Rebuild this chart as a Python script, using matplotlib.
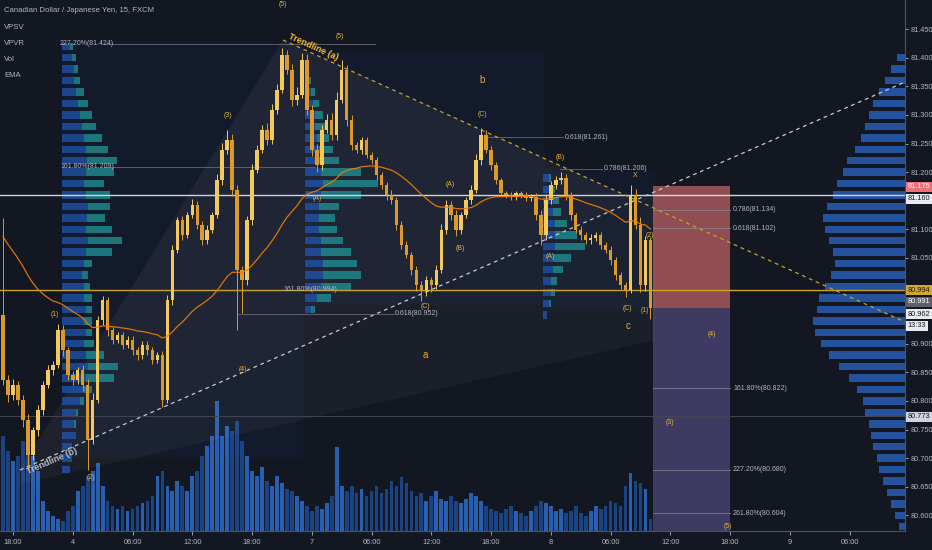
"""CAD/JPY 15m chart with Elliott wave markup, TradingView dark style."""
import matplotlib

matplotlib.use("Agg")

import matplotlib.pyplot as plt
import matplotlib.patches as mpatches

plt.rcParams["font.family"] = ["Liberation Sans", "DejaVu Sans"]

BG = "#131722"
TXT = "#b2b5be"
UP = "#f4c95d"
DOWN = "#dc9a2c"
WAVE = "#e2b33c"
EMA_COLOR = "#f57c00"
FIB = "#5d606b"
BLUE = "#1f56b0"
TEAL = "#1f9c9c"

# ---- data -------------------------------------------------------------
bar_start = -4          # first candle, in 15-minute bar units
bar_step = 2            # 30-minute candles
first_open = 80.950

closes = [
    80.837, 80.810, 80.828, 80.802, 80.767, 80.705, 80.749, 80.784, 80.828, 80.854,
    80.863, 80.924, 80.889, 80.845, 80.837, 80.854, 80.828, 80.732, 80.802, 80.941,
    80.976, 80.924, 80.907, 80.915, 80.898, 80.907, 80.889, 80.880, 80.898, 80.889,
    80.872, 80.880, 80.802, 80.976, 81.064, 81.116, 81.090, 81.125, 81.143, 81.108,
    81.081, 81.099, 81.125, 81.186, 81.239, 81.256, 81.169, 81.029, 81.011, 81.116,
    81.204, 81.239, 81.274, 81.256, 81.309, 81.344, 81.405, 81.379, 81.326, 81.335,
    81.396, 81.309, 81.239, 81.212, 81.274, 81.291, 81.265, 81.326, 81.379, 81.291,
    81.247, 81.239, 81.256, 81.230, 81.221, 81.195, 81.177, 81.160, 81.151, 81.108,
    81.073, 81.055, 81.029, 81.003, 80.994, 81.011, 81.003, 81.029, 81.099, 81.143,
    81.125, 81.099, 81.125, 81.151, 81.169, 81.221, 81.265, 81.239, 81.212, 81.186,
    81.163, 81.160, 81.157, 81.163, 81.160, 81.155, 81.157, 81.125, 81.090, 81.151,
    81.177, 81.186, 81.190, 81.160, 81.125, 81.099, 81.090, 81.081, 81.085, 81.090,
    81.073, 81.064, 81.046, 81.020, 81.003, 80.994, 81.160, 81.108, 81.003, 81.081,
    80.962,
]

# wick lengths beyond the body, in 0.001 JPY
wick_up = [
    170, 8, 10, 6, 8, 10, 6, 8, 6, 8,
    6, 10, 8, 6, 8, 6, 8, 10, 12, 8,
    8, 6, 6, 6, 6, 6, 6, 6, 6, 6,
    6, 6, 8, 10, 8, 6, 8, 6, 10, 6,
    6, 8, 6, 10, 12, 18, 10, 8, 6, 8,
    10, 8, 8, 12, 10, 10, 12, 8, 10, 14,
    12, 10, 8, 10, 8, 10, 12, 14, 17, 8,
    8, 6, 6, 6, 6, 6, 6, 6, 8, 6,
    6, 6, 6, 6, 6, 8, 6, 8, 10, 8,
    6, 8, 6, 6, 8, 10, 12, 8, 6, 6,
    4, 4, 5, 4, 4, 5, 4, 6, 8, 10,
    8, 8, 10, 6, 6, 4, 6, 6, 6, 6,
    6, 5, 6, 6, 6, 5, 17, 10, 14, 8,
    6,
]
wick_dn = [
    10, 12, 8, 10, 12, 26, 8, 10, 8, 6,
    8, 6, 10, 8, 10, 8, 10, 53, 8, 6,
    8, 10, 8, 6, 8, 6, 8, 8, 6, 8,
    8, 6, 12, 6, 8, 6, 8, 6, 6, 8,
    8, 6, 6, 6, 8, 8, 10, 105, 57, 8,
    8, 6, 6, 8, 6, 8, 6, 8, 10, 8,
    6, 10, 10, 12, 8, 6, 8, 8, 6, 10,
    8, 6, 8, 6, 6, 8, 6, 8, 6, 10,
    8, 6, 8, 10, 20, 10, 12, 8, 6, 8,
    8, 10, 8, 6, 6, 6, 8, 6, 8, 6,
    5, 6, 5, 6, 5, 6, 6, 8, 18, 8,
    6, 6, 6, 8, 8, 6, 8, 6, 6, 6,
    8, 6, 8, 8, 8, 12, 6, 8, 12, 10,
    18,
]

volumes = [
    95, 80, 70, 75, 90, 85, 75, 60, 30, 20,
    15, 12, 10, 20, 25, 40, 45, 55, 60, 68,
    45, 30, 25, 22, 25, 20, 22, 25, 28, 30,
    35, 55, 60, 45, 40, 50, 45, 40, 55, 60,
    75, 85, 95, 130, 95, 105, 100, 110, 90, 75,
    60, 55, 64, 50, 45, 55, 48, 42, 40, 35,
    30, 25, 20, 25, 22, 28, 35, 84, 45, 40,
    45, 38, 42, 35, 40, 45, 38, 42, 50, 45,
    54, 48, 40, 35, 38, 30, 35, 40, 32, 30,
    35, 30, 28, 32, 38, 35, 30, 25, 22, 20,
    18, 22, 25, 20, 18, 15, 20, 25, 30, 28,
    25, 20, 22, 18, 20, 25, 18, 15, 20, 25,
    22, 25, 30, 28, 25, 45, 58, 50, 48, 42,
    12,
]

ema_seed = 81.100
ema_span = 40

time_labels = ["18:00", "4", "06:00", "12:00", "18:00", "7", "06:00", "12:00",
               "18:00", "8", "06:00", "12:00", "18:00", "9", "06:00"]
price_ticks = [80.60, 80.65, 80.70, 80.75, 80.80, 80.85, 80.90,
               81.05, 81.10, 81.20, 81.25, 81.30, 81.35, 81.40, 81.45]

# volume profiles: top price, step, then (blue, teal) volume per row
prof_left_top = 81.42
prof_left_blue = [8, 10, 12, 12, 14, 16, 18, 20, 22, 24, 25, 24, 22, 24, 26, 25, 24, 26, 24,
                  22, 20, 22, 22, 24, 22, 24, 22, 24, 26, 24, 22, 18, 14, 12, 14, 10, 10, 8]
prof_left_teal = [3, 4, 4, 6, 8, 10, 12, 14, 18, 22, 30, 28, 20, 24, 22, 18, 26, 34, 26,
                  8, 6, 6, 8, 6, 8, 6, 10, 18, 30, 28, 8, 4, 2, 2, 0, 0, 0, 0]
prof_mid_top = 81.36
prof_mid_blue = [4, 6, 8, 10, 10, 12, 14, 14, 16, 18, 16, 14, 14, 14, 16, 16, 18, 18, 16, 12, 6]
prof_mid_teal = [2, 4, 6, 8, 10, 12, 14, 20, 40, 55, 40, 20, 16, 18, 22, 30, 34, 38, 30, 14, 4]
prof_b_top = 81.19
prof_b_blue = [6, 8, 10, 10, 12, 12, 12, 10, 10, 8, 8, 6, 4]
prof_b_teal = [2, 4, 6, 8, 12, 22, 30, 18, 10, 6, 4, 2, 0]
prof_right_top = 81.40
prof_right = [8, 14, 20, 26, 32, 36, 40, 44, 50, 58, 62, 68, 72, 78, 82, 80, 76, 72, 70, 74,
              80, 86, 88, 92, 90, 84, 76, 66, 56, 48, 42, 40, 36, 34, 32, 28, 26, 22, 18, 14,
              10, 6, 4]
prof_step = 0.02

# fibonacci levels: (price, label)
fib_levels = {
    "ext_top": (81.424, "227.20%(81.424)"),
    "ext_mid": (81.209, "161.80%(81.209)"),
    "ext_low": (80.994, "161.80%(80.994)"),
    "ret_low": (80.952, "0.618(80.952)"),
    "ret_c": (81.261, "0.618(81.261)"),
    "ret_b": (81.206, "0.786(81.206)"),
}
target_levels = [(81.134, "0.786(81.134)"), (81.102, "0.618(81.102)"),
                 (80.822, "161.80%(80.822)"), (80.680, "227.20%(80.680)"),
                 (80.604, "261.80%(80.604)")]
stop_price = 81.175
entry_price = 80.962

# ---- screen helpers (annotation placement) ------------------------------
X0, PXBAR = 13.0, 2.49
P0, Y0, PXPRICE = 81.160, 195.0, 572.0


def bx(px):
    return (px - X0) / PXBAR


def pp(py):
    return P0 - (py - Y0) / PXPRICE


def on_line(p1, p2, x):
    return p1[1] + (p2[1] - p1[1]) * (x - p1[0]) / (p2[0] - p1[0])


fig = plt.figure(figsize=(9.32, 5.5), dpi=100, facecolor=BG)
rect = [0, 19 / 550, 905 / 932, 531 / 550]
axv = fig.add_axes(rect, facecolor=BG)
ax = fig.add_axes(rect, facecolor="none", sharex=axv)
axv.axis("off")

xs = [bar_start + i * bar_step for i in range(len(closes))]
opens = [first_open] + closes[:-1]

# volume
vcol = ["#2f6cc9" if c >= o else "#1d4b94" for o, c in zip(opens, closes)]
axv.bar(xs, volumes, width=1.5, color=vcol, alpha=0.85, linewidth=0)
axv.set_ylim(0, 531)

ax.set_xlim(bx(0), bx(905))
ax.set_ylim(pp(531), pp(0))

# range boxes behind the profiles
for l, r, top, bot in [(62, 303, 41, 458), (305, 545, 52, 305), (543, 655, 170, 310)]:
    ax.add_patch(mpatches.Rectangle((bx(l), pp(bot)), bx(r) - bx(l), pp(top) - pp(bot),
                                    facecolor="#2962ff", alpha=0.045, linewidth=0, zorder=0))

# trendlines
ta1, ta2 = (bx(283), pp(40)), (bx(905), pp(322))
tb1, tb2 = (bx(20), pp(470)), (bx(905), pp(82))
sa = (ta2[1] - ta1[1]) / (ta2[0] - ta1[0])
sb = (tb2[1] - tb1[1]) / (tb2[0] - tb1[0])
xi = (tb1[1] - ta1[1] + sa * ta1[0] - sb * tb1[0]) / (sa - sb)
apex = (xi, on_line(ta1, ta2, xi))
ax.add_patch(mpatches.Polygon([tb1, ta1, apex], closed=True, facecolor="white",
                              alpha=0.05, linewidth=0, zorder=0))
xr = bx(655)
ax.add_patch(mpatches.Polygon([tb1, (xr, on_line(tb1, tb2, xr)), (xr, pp(340)), (tb1[0], pp(484))],
                              closed=True, facecolor="white", alpha=0.035, linewidth=0, zorder=0))

# volume profiles
sc = 1.0 / PXBAR
h = prof_step * 0.65


def draw_profile(anchor, top, blue, teal):
    lv = [top - k * prof_step for k in range(len(blue))]
    bw = [b * sc for b in blue]
    tw = [t * sc for t in teal]
    ax.barh(lv, bw, height=h, left=anchor, color=BLUE, alpha=0.75, linewidth=0, zorder=1)
    ax.barh(lv, tw, height=h, left=[anchor + w for w in bw], color=TEAL, alpha=0.7,
            linewidth=0, zorder=1)


draw_profile(bx(62), prof_left_top, prof_left_blue, prof_left_teal)
draw_profile(bx(305), prof_mid_top, prof_mid_blue, prof_mid_teal)
draw_profile(bx(543), prof_b_top, prof_b_blue, prof_b_teal)
lv = [prof_right_top - k * prof_step for k in range(len(prof_right))]
rw = [w * sc for w in prof_right]
ax.barh(lv, rw, height=h, left=[bx(905) - w for w in rw], color="#2a62bd", alpha=0.8,
        linewidth=0, zorder=1)

# horizontal levels
ax.axhline(81.160, color="#d1d4dc", lw=1.0, zorder=2)
ax.axhline(80.994, color="#c9a227", lw=1.0, zorder=2)
ax.axhline(80.773, color="#434651", lw=0.7, zorder=2)

fs_lab = 5.0
p, t = fib_levels["ext_top"]
ax.plot([bx(104), bx(375)], [p, p], color=FIB, lw=0.7, zorder=2)
ax.text(bx(60), p, t, color=TXT, fontsize=fs_lab, va="center", ha="left", zorder=5)
p, t = fib_levels["ext_mid"]
ax.plot([bx(104), bx(315)], [p, p], color=FIB, lw=0.7, zorder=2)
ax.text(bx(60), p, t, color=TXT, fontsize=fs_lab, va="center", ha="left", zorder=5)
p, t = fib_levels["ext_low"]
ax.text(bx(310), p, t, color=TXT, fontsize=fs_lab, va="center", ha="center", zorder=5)
p, t = fib_levels["ret_low"]
ax.plot([bx(238), bx(394)], [p, p], color=FIB, lw=0.7, zorder=2)
ax.text(bx(395), p, t, color=TXT, fontsize=fs_lab, va="center", ha="left", zorder=5)
p, t = fib_levels["ret_c"]
ax.plot([bx(480), bx(563)], [p, p], color=FIB, lw=0.7, zorder=2)
ax.text(bx(565), p, t, color=TXT, fontsize=fs_lab, va="center", ha="left", zorder=5)
p, t = fib_levels["ret_b"]
ax.plot([bx(560), bx(602)], [p, p], color=FIB, lw=0.7, zorder=2)
ax.text(bx(604), p, t, color=TXT, fontsize=fs_lab, va="center", ha="left", zorder=5)

# risk / reward boxes
bl, br = bx(653), bx(730)
ax.add_patch(mpatches.Rectangle((bl, entry_price), br - bl, stop_price - entry_price,
                                facecolor="#e57373", alpha=0.6, linewidth=0, zorder=1.5))
ax.add_patch(mpatches.Rectangle((bl, pp(531)), br - bl, entry_price - pp(531),
                                facecolor="#8070c0", alpha=0.4, linewidth=0, zorder=1.5))
for p, t in target_levels:
    ax.plot([bl, br], [p, p], color="#8a8d99", lw=0.7, alpha=0.7, zorder=2)
    ax.text(bx(733), p, t, color=TXT, fontsize=fs_lab, va="center", ha="left", zorder=5)

ax.plot([ta1[0], ta2[0]], [ta1[1], ta2[1]], color="#c9a227", lw=0.9, ls=(0, (3, 3)), zorder=3)
ax.plot([tb1[0], tb2[0]], [tb1[1], tb2[1]], color="#c8cbd4", lw=0.9, ls=(0, (3, 3)), zorder=3)
ax.text(bx(313), pp(47), "Trendline (a)", color="#f0b93a", fontsize=6.5, fontweight="bold",
        rotation=-24.4, ha="center", va="center", zorder=6)
ax.text(bx(52), pp(461), "Trendline (b)", color="#b8bcc6", fontsize=6.5, fontweight="bold",
        rotation=23.6, ha="center", va="center", zorder=6)

# candles
for x, o, c, wu, wd in zip(xs, opens, closes, wick_up, wick_dn):
    col = UP if c >= o else DOWN
    hi = max(o, c) + wu / 1000.0
    lo = min(o, c) - wd / 1000.0
    ax.vlines(x, lo, hi, color=col, lw=0.7, zorder=4)
    ax.bar(x, max(abs(c - o), 0.0015), bottom=min(o, c), width=1.4, color=col,
           linewidth=0, zorder=4)

# EMA of closes
alpha = 2.0 / (ema_span + 1)
ema = []
e = ema_seed
for c in closes:
    e = e + alpha * (c - e)
    ema.append(e)
ax.plot(xs, ema, color=EMA_COLOR, lw=0.9, alpha=0.9, zorder=4.5)

# wave labels
waves = [
    ("(5)", 283, 4), ("(5)", 340, 36), ("(3)", 228, 116), ("(1)", 55, 315),
    ("(2)", 91, 478), ("(4)", 243, 370), ("(A)", 317, 198), ("(C)", 482, 115),
    ("(A)", 450, 185), ("(B)", 460, 248), ("(C)", 425, 307), ("(B)", 560, 158),
    ("(A)", 550, 257), ("X", 635, 176), ("(C)", 627, 308), ("(1)", 645, 311),
    ("(2)", 650, 236), ("(4)", 712, 335), ("(3)", 670, 423), ("(5)", 728, 527),
]
for t, px_, py_ in waves:
    ax.text(bx(px_), pp(py_), t, color=WAVE, fontsize=5.0, ha="center", va="center", zorder=6)
for t, px_, py_ in [("b", 482, 80), ("a", 425, 355), ("c", 628, 326)]:
    ax.text(bx(px_), pp(py_), t, color=WAVE, fontsize=7, ha="center", va="center", zorder=6)

# axes styling
for s in ("top", "left"):
    ax.spines[s].set_visible(False)
for s in ("bottom", "right"):
    ax.spines[s].set_color("#50535e")
    ax.spines[s].set_linewidth(0.8)
ax.yaxis.tick_right()
ax.set_yticks(price_ticks)
ax.set_yticklabels([f"{v:.3f}" for v in price_ticks])
ax.set_xticks([24 * k for k in range(len(time_labels))])
ax.set_xticklabels(time_labels)
ax.tick_params(axis="y", colors=TXT, labelsize=5.3, length=2.5, width=0.6, pad=1.5)
ax.tick_params(axis="x", colors=TXT, labelsize=5.3, length=3, width=0.6, pad=3)

# price tags on the scale, stacked the way the platform stacks them
tags = [(187, "81.175", "#ef6f7a", "white"), (199, "81.160", "#e9ebf0", BG),
        (290, "80.994", "#d4a72c", BG), (302, "80.991", "#5d606b", "white"),
        (314, "80.962", "#e9ebf0", BG), (326, "13:33", "#e9ebf0", BG),
        (417, "80.773", "#d1d4dc", BG)]
tr = ax.get_yaxis_transform()
for py_, t, fc, tc in tags:
    ax.text(1.003, pp(py_), t, transform=tr, fontsize=5.3, color=tc, ha="left", va="center",
            bbox=dict(boxstyle="square,pad=0.2", facecolor=fc, edgecolor="none"),
            zorder=10, clip_on=False)

# header
legend_lines = ["Canadian Dollar / Japanese Yen, 15, FXCM", "VPSV", "VPVR", "Vol", "EMA"]
for k, t in enumerate(legend_lines):
    fig.text(4 / 932, 1 - (11 + 16.2 * k) / 550, t, color=TXT, fontsize=5.6, va="center")

fig.savefig("out.png", dpi=100, facecolor=BG)
